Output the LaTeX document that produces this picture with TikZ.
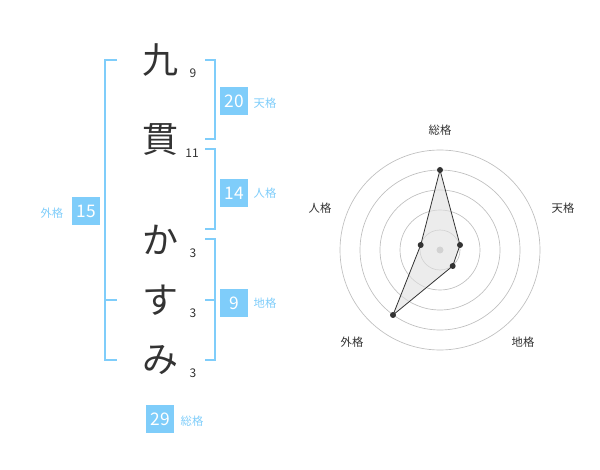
\documentclass[tikz,border=0pt]{standalone}
\usepackage{fontspec}
\setmainfont{Noto Sans CJK JP}
\definecolor{sky}{HTML}{7FCDFA}
\definecolor{ink}{HTML}{333333}
\begin{document}
\begin{tikzpicture}[x=0.75pt,y=-0.75pt,
  kanji/.style={font=\fontsize{27}{30}\selectfont,text=ink,inner sep=0},
  num/.style={font=\fontsize{9}{10}\selectfont,text=ink,inner sep=0},
  vbox/.style={fill=sky,text=white,minimum width=21pt,minimum height=21pt,inner sep=0,font=\fontsize{13}{14}\selectfont},
  lab/.style={text=sky,font=\fontsize{8.5}{10}\selectfont,inner sep=0},
  brk/.style={draw=sky,line width=1.3pt},
  rlab/.style={text=ink,font=\fontsize{8.5}{10}\selectfont,inner sep=0},
  ring/.style={draw=black!25,line width=0.5pt}]
\useasboundingbox (0,0) rectangle (600,470);
\node[kanji] (c1) at (160,60) {九};
\node[kanji] (c2) at (160,140) {貫};
\node[kanji] (c3) at (160,240) {か};
\node[kanji] (c4) at (160,300) {す};
\node[kanji] (c5) at (160,360) {み};
\node[num] (n1) at (193,73) {9};
\node[num] (n2) at (192,153) {11};
\node[num] (n3) at (193,253) {3};
\node[num] (n4) at (193,313) {3};
\node[num] (n5) at (193,373) {3};
\draw[brk] (117,60) -- (105,60) -- (105,360) -- (117,360);
\draw[brk] (105,300) -- (117,300);
\draw[brk] (205,60) -- (215,60) -- (215,139) -- (205,139);
\draw[brk] (205,149) -- (215,149) -- (215,229) -- (205,229);
\draw[brk] (205,239) -- (215,239) -- (215,360) -- (205,360);
\draw[brk] (205,300) -- (215,300);
\node[vbox] (b20) at (234,101) {20}; \node[lab] (l20) at (265,103) {天格};
\node[vbox] (b14) at (234,193) {14}; \node[lab] (l14) at (265,193) {人格};
\node[vbox] (b9) at (234,303) {9}; \node[lab] (l9) at (265,303) {地格};
\node[vbox] (b15) at (86,211) {15}; \node[lab] (l15) at (52,213) {外格};
\node[vbox] (b29) at (160,419) {29}; \node[lab] (l29) at (192,421) {総格};
% radar
\foreach \r in {20,40,60,80,100} \draw[ring] (440,250) circle[radius=\r];
\fill[black!25] (440,250) circle[radius=3.5];
\coordinate (p1) at (440,170);
\coordinate (p2) at (460,245);
\coordinate (p3) at (452.7,266);
\coordinate (p4) at (393,315);
\coordinate (p5) at (420.7,245);
\draw[fill=black!12,fill opacity=0.6,draw=ink,line width=0.6pt] (p1) -- (p2) -- (p3) -- (p4) -- (p5) -- cycle;
\foreach \p in {p1,p2,p3,p4,p5} \fill[ink] (\p) circle[radius=3];
\node[rlab] (t1) at (440,130) {総格};
\node[rlab] (t2) at (563,208) {天格};
\node[rlab] (t3) at (523,342) {地格};
\node[rlab] (t4) at (352,342) {外格};
\node[rlab] (t5) at (320,208) {人格};
\end{tikzpicture}
\end{document}
